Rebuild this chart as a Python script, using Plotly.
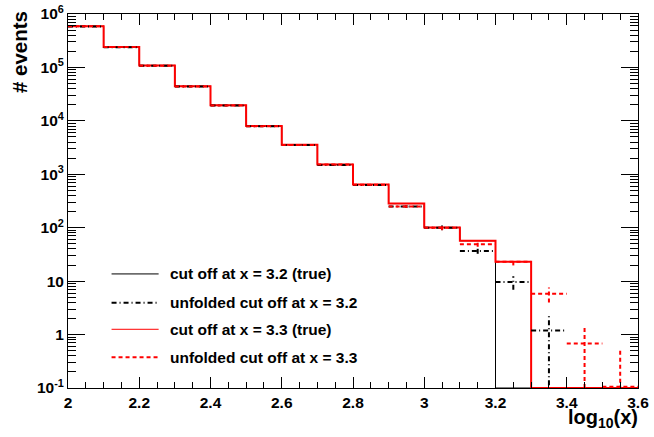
import plotly.graph_objects as go

# ---------------- data ----------------
bin_edges = [2.0, 2.1, 2.2, 2.3, 2.4, 2.5, 2.6, 2.7, 2.8, 2.9,
             3.0, 3.1, 3.2, 3.3, 3.4, 3.5, 3.6]

true_cut32 = [5.9e5, 2.4e5, 1.09e5, 4.43e4, 1.95e4, 8.0e3, 3.57e3, 1.53e3,
              6.44e2, 2.83e2, 1.01e2, 5.7e1, 0, 0, 0, 0]
true_cut33 = [5.9e5, 2.4e5, 1.09e5, 4.43e4, 1.95e4, 8.0e3, 3.57e3, 1.53e3,
              6.44e2, 2.83e2, 1.01e2, 5.7e1, 23.0, 0, 0, 0]

unf_cut32 = [5.85e5, 2.38e5, 1.08e5, 4.38e4, 1.93e4, 7.9e3, 3.52e3, 1.5e3,
             6.3e2, 2.5e2, 1.0e2, 36.5, 9.6, 1.19, None, None]
unf_cut32_err = [770, 490, 330, 210, 140, 90, 60, 39,
                 25, 16, 10, 4.0, 2.7, 1.15, None, None]

unf_cut33 = [5.9e5, 2.4e5, 1.08e5, 4.4e4, 1.94e4, 7.95e3, 3.55e3, 1.52e3,
             6.35e2, 2.5e2, 1.0e2, 49.0, 23.0, 5.8, 0.68, 0.105]
unf_cut33_err = [770, 490, 330, 210, 140, 90, 60, 39,
                 25, 16, 10, 5.0, 3.3, 1.8, 0.65, 0.45]

legend_labels = ["cut off at x = 3.2 (true)",
                 "unfolded cut off at x = 3.2",
                 "cut off at x = 3.3 (true)",
                 "unfolded cut off at x = 3.3"]

x_tick_vals = [2.0, 2.2, 2.4, 2.6, 2.8, 3.0, 3.2, 3.4, 3.6]
x_tick_text = ["2", "2.2", "2.4", "2.6", "2.8", "3", "3.2", "3.4", "3.6"]
y_tick_vals = [0.1, 1, 10, 100, 1e3, 1e4, 1e5, 1e6]
y_tick_text = ["10<sup>-1</sup>", "1", "10", "10<sup>2</sup>", "10<sup>3</sup>",
               "10<sup>4</sup>", "10<sup>5</sup>", "10<sup>6</sup>"]

# minor tick positions (axis decoration only)
x_minor_vals = [round(2.0 + 0.05 * i, 2) for i in range(33)]
y_minor_vals = [m * 10.0 ** k for k in range(-1, 6) for m in range(2, 10)]

# ---------------- helpers ----------------
Y_MIN = 0.1      # bottom of the frame; empty bins are drawn there (ROOT style)
Y_BELOW = 1e-3   # used for error bars reaching below the frame (clipped)


def bold(s):
    return "<b>" + s + "</b>"


def step_xy(edges, vals):
    xs, ys = [], []
    for i, v in enumerate(vals):
        v = v if v > 0 else Y_MIN
        xs += [edges[i], edges[i + 1]]
        ys += [v, v]
    xs.append(edges[-1])
    ys.append(Y_MIN)
    return xs, ys


def err_xy(edges, vals, errs):
    hx, hy, vx, vy = [], [], [], []
    for i, (v, e) in enumerate(zip(vals, errs)):
        if v is None:
            continue
        lo, hi = edges[i], edges[i + 1]
        c = 0.5 * (lo + hi)
        hx += [lo, hi, None]
        hy += [v, v, None]
        low = v - e
        vx += [c, c, None]
        vy += [low if low > 0 else Y_BELOW, v + e, None]
    return hx, hy, vx, vy


fig = go.Figure()

RED = "#ff0000"
BLACK = "#000000"
DASHDOT = "5px,3px,1px,3px"
DASH = "4px,3px"
FONT = "Liberation Sans"

# true histograms
x, y = step_xy(bin_edges, true_cut32)
fig.add_trace(go.Scatter(x=x, y=y, mode="lines", line=dict(color=BLACK, width=1),
                         name=legend_labels[0], showlegend=False, hoverinfo="skip"))
x, y = step_xy(bin_edges, true_cut33)
fig.add_trace(go.Scatter(x=x, y=y, mode="lines", line=dict(color=RED, width=2),
                         name=legend_labels[2], showlegend=False, hoverinfo="skip"))

# unfolded with error bars
for vals, errs, col, dash, lab in [
        (unf_cut32, unf_cut32_err, BLACK, DASHDOT, legend_labels[1]),
        (unf_cut33, unf_cut33_err, RED, DASH, legend_labels[3])]:
    hx, hy, vx, vy = err_xy(bin_edges, vals, errs)
    fig.add_trace(go.Scatter(x=hx, y=hy, mode="lines",
                             line=dict(color=col, width=2, dash=dash),
                             name=lab, showlegend=False, hoverinfo="skip"))
    fig.add_trace(go.Scatter(x=vx, y=vy, mode="lines",
                             line=dict(color=col, width=2, dash=dash),
                             name=lab, showlegend=False, hoverinfo="skip"))

# ---------------- manual ROOT-like legend ----------------
leg_styles = [(BLACK, 1, "solid"), (BLACK, 2, DASHDOT),
              (RED, 1, "solid"), (RED, 2, DASH)]
leg_rows = [0.305, 0.228, 0.157, 0.082]
for lab, (col, w, dash), yr in zip(legend_labels, leg_styles, leg_rows):
    fig.add_shape(type="line", xref="paper", yref="paper",
                  x0=0.0764, x1=0.159, y0=yr, y1=yr,
                  line=dict(color=col, width=w, dash=dash))
    fig.add_annotation(text=bold(lab), xref="paper", yref="paper", x=0.176, y=yr,
                       xanchor="left", yanchor="middle", showarrow=False,
                       font=dict(size=15.5, color="black", family=FONT))

# axis titles
fig.add_annotation(text=bold("# events"), xref="paper", yref="paper",
                   x=-0.085, y=1.012, xanchor="center", yanchor="top",
                   textangle=-90, showarrow=False,
                   font=dict(size=20.5, color="black", family=FONT))
fig.add_annotation(text=bold("log<sub>10</sub>(x)"), xref="paper", yref="paper",
                   x=1.004, y=-0.044, xanchor="right", yanchor="top",
                   showarrow=False,
                   font=dict(size=20, color="black", family=FONT))

fig.update_layout(
    width=654, height=437,
    margin=dict(l=68, r=16, t=14, b=49, autoexpand=False),
    paper_bgcolor="white", plot_bgcolor="white",
    font=dict(family=FONT, size=15, color="black"),
    showlegend=False,
)
fig.update_xaxes(
    range=[2.0, 3.6], tickmode="array", tickvals=x_tick_vals,
    ticktext=[bold(t) for t in x_tick_text],
    ticks="inside", ticklen=11, tickwidth=1, tickcolor="black",
    showline=True, linecolor="black", linewidth=1, mirror="ticks",
    showgrid=False, zeroline=False, automargin=False,
    minor=dict(tickmode="array", tickvals=x_minor_vals, ticks="inside", ticklen=6,
               tickcolor="black", tickwidth=1, showgrid=False),
    tickfont=dict(size=15.5, family=FONT),
)
fig.update_yaxes(
    type="log", range=[-1, 6], tickmode="array", tickvals=y_tick_vals,
    ticktext=[bold(t) for t in y_tick_text],
    ticks="inside", ticklen=17, tickwidth=1, tickcolor="black",
    showline=True, linecolor="black", linewidth=1, mirror="ticks",
    showgrid=False, zeroline=False, automargin=False,
    minor=dict(tickmode="array", tickvals=y_minor_vals, ticks="inside", ticklen=8,
               tickcolor="black", tickwidth=1, showgrid=False),
    tickfont=dict(size=15.5, family=FONT),
)

fig.write_html("out.html")
